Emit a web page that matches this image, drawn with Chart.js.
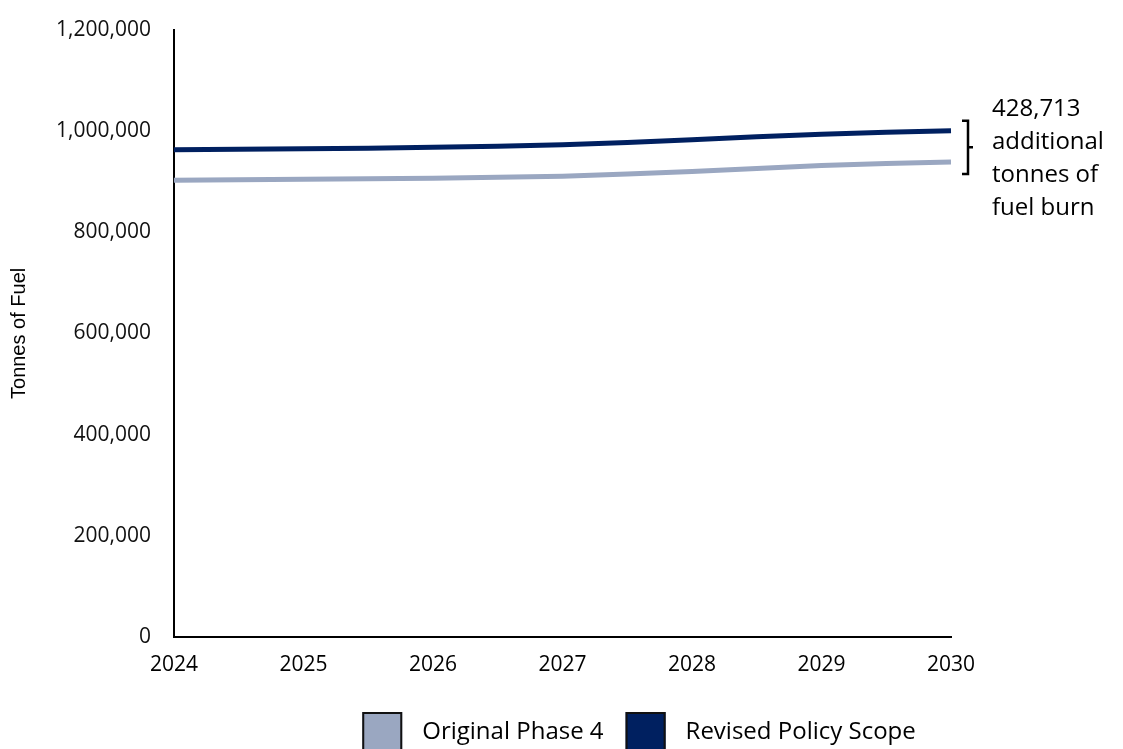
<!DOCTYPE html>
<html><head><meta charset="utf-8">
<script src="https://cdn.jsdelivr.net/npm/chart.js@4"></script>
<style>html,body{margin:0;padding:0;background:#fff}#wrap{width:1123px;height:749px;position:relative;overflow:hidden}</style>
</head><body><div id="wrap"><canvas id="c" width="1123" height="749"></canvas></div>
<script>
const years = ['2024','2025','2026','2027','2028','2029','2030'];
const originalPhase4 = [903000, 905000, 907000, 911000, 920000, 932000, 939000];
const revisedPolicyScope = [963000, 965000, 968000, 973000, 983000, 994000, 1001000];
const yTickValues = [0, 200000, 400000, 600000, 800000, 1000000, 1200000];
const seriesNames = ['Original Phase 4', 'Revised Policy Scope'];
const seriesColors = ['#9AA7C1', '#002060'];
const annotationLines = ['428,713', 'additional', 'tonnes of', 'fuel burn'];
const yTitle = 'Tonnes of Fuel';

const FONT = "'Open Sans', sans-serif";

const annotationPlugin = {
  id: 'bracketNote',
  afterDraw(chart) {
    const ctx = chart.ctx, y = chart.scales.y, area = chart.chartArea;
    const last = years.length - 1;
    const top = y.getPixelForValue(revisedPolicyScope[last]) - 10;
    const bot = y.getPixelForValue(originalPhase4[last]) + 12;
    const bx = area.right + 17;
    const mid = (top + bot) / 2;
    ctx.save();
    ctx.strokeStyle = '#000'; ctx.lineWidth = 2.5;
    ctx.beginPath();
    ctx.moveTo(bx - 6, top); ctx.lineTo(bx, top); ctx.lineTo(bx, bot); ctx.lineTo(bx - 6, bot);
    ctx.moveTo(bx, mid); ctx.lineTo(bx + 5, mid);
    ctx.stroke();
    ctx.fillStyle = '#000';
    ctx.font = '24px ' + FONT;
    ctx.textBaseline = 'middle'; ctx.textAlign = 'left';
    annotationLines.forEach((t, i) => ctx.fillText(t, bx + 24, top - 11 + i * 32.7));
    ctx.restore();
  }
};

const legendPlugin = {
  id: 'customLegend',
  afterDraw(chart) {
    const ctx = chart.ctx;
    ctx.save();
    ctx.font = '24px ' + FONT;
    const boxW = 40, boxH = 40, gapBoxText = 20, gapItems = 22;
    const items = chart.data.datasets.map(d => ({label: d.label, color: d.borderColor, w: ctx.measureText(d.label).width}));
    let total = 0;
    items.forEach((it, i) => { total += boxW + gapBoxText + it.w + (i < items.length - 1 ? gapItems : 0); });
    let x = 639 - total / 2;
    const boxTop = 712, textY = 732;
    items.forEach(it => {
      ctx.fillStyle = it.color;
      ctx.fillRect(x, boxTop, boxW, boxH);
      ctx.strokeStyle = '#111'; ctx.lineWidth = 2;
      ctx.strokeRect(x + 1, boxTop + 1, boxW - 2, boxH - 2);
      ctx.fillStyle = '#000';
      ctx.textBaseline = 'middle'; ctx.textAlign = 'left';
      ctx.fillText(it.label, x + boxW + gapBoxText, textY);
      x += boxW + gapBoxText + it.w + gapItems;
    });
    ctx.restore();
  }
};

new Chart(document.getElementById('c'), {
  type: 'line',
  data: {
    labels: years,
    datasets: [
      {label: seriesNames[0], data: originalPhase4, borderColor: seriesColors[0], backgroundColor: seriesColors[0], borderWidth: 5, pointRadius: 0, tension: 0.3, fill: false},
      {label: seriesNames[1], data: revisedPolicyScope, borderColor: seriesColors[1], backgroundColor: seriesColors[1], borderWidth: 5, pointRadius: 0, tension: 0.3, fill: false}
    ]
  },
  options: {
    responsive: false,
    devicePixelRatio: 1,
    animation: false,
    layout: {padding: {left: 0, right: 172, top: 30, bottom: 55}},
    plugins: {legend: {display: false}, tooltip: {enabled: false}},
    scales: {
      x: {
        type: 'category', offset: false,
        grid: {display: false, drawTicks: false},
        border: {display: true, color: '#000', width: 2},
        ticks: {color: '#000', font: {family: FONT, size: 21}, padding: 16, maxRotation: 0, autoSkip: false}
      },
      y: {
        min: 0, max: 1200000,
        afterBuildTicks: s => { s.ticks = yTickValues.map(v => ({value: v})); },
        afterFit: s => { s.paddingTop = 0; },
        grid: {display: false, drawTicks: false},
        border: {display: true, color: '#000', width: 2},
        ticks: {color: '#111', font: {family: FONT, size: 21}, padding: 23,
          callback: v => Number(v).toLocaleString('en-US')},
        title: {display: true, text: yTitle, color: '#000', font: {family: "'Liberation Sans', Arial, sans-serif", size: 20}, padding: {top: 7, bottom: 2}}
      }
    }
  },
  plugins: [annotationPlugin, legendPlugin]
});
</script>
</body></html>
